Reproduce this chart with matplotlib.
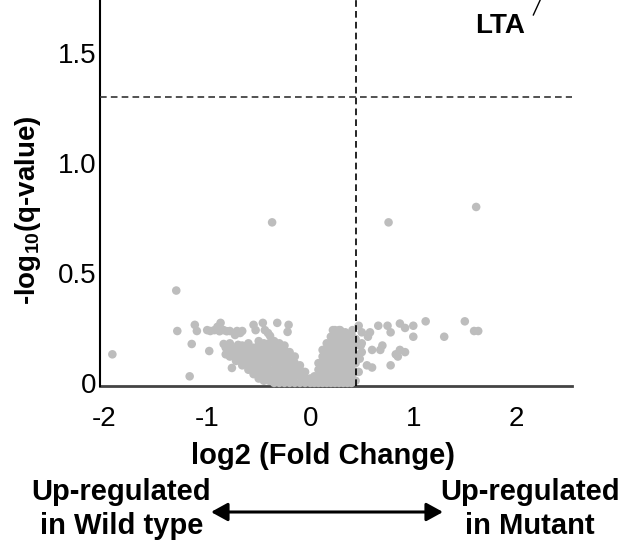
import matplotlib
matplotlib.use("Agg")
import matplotlib.pyplot as plt
import numpy as np

plt.rcParams['font.family'] = ['Liberation Sans', 'DejaVu Sans']
plt.rcParams['mathtext.fontset'] = 'custom'
plt.rcParams['mathtext.rm'] = 'Liberation Sans:bold'
plt.rcParams['mathtext.bf'] = 'Liberation Sans:bold'

# ---- data ----
# scattered (isolated) genes: log2 fold change, -log10(q)
scatter_x = [-1.92, -1.30, -1.29, -1.17, -1.15, -1.12, -1.10, -1.00, -0.98, -0.97,
             -0.93, -0.90, -0.88, -0.87, -0.84, -0.84, -0.81, -0.78, -0.76, -0.76,
             -0.73, -0.71, -0.70, -0.68, -0.66, -0.66, -0.61, -0.55, -0.55, -0.53,
             -0.46, -0.44, -0.41, -0.39, -0.37, -0.32, -0.22, -0.21,
             0.22, 0.29, 0.34, 0.41, 0.47, 0.50, 0.58, 0.66, 0.75, 0.78,
             0.87, 0.92, 1.00, 1.12, 1.50, 1.59, 1.63, 1.30, 1.00, 0.49,
             0.50, 0.60, 0.70, 0.68, 0.83, 0.85, 0.87, 0.92, 0.78, 0.55,
             0.60, 0.56, 0.76, 1.61, 0.47, 0.48, 0.50]
scatter_y = [0.13, 0.42, 0.236, 0.03, 0.177, 0.264, 0.236, 0.24, 0.145, 0.236,
             0.24, 0.255, 0.235, 0.273, 0.24, 0.177, 0.235, 0.236, 0.141, 0.068,
             0.218, 0.236, 0.173, 0.227, 0.236, 0.136, 0.164, 0.264, 0.15, 0.24,
             0.273, 0.24, 0.227, 0.214, 0.73, 0.273, 0.232, 0.264,
             0.24, 0.24, 0.23, 0.24, 0.26, 0.23, 0.23, 0.26, 0.26, 0.23,
             0.27, 0.25, 0.26, 0.28, 0.28, 0.236, 0.236, 0.21, 0.21, 0.17,
             0.18, 0.15, 0.17, 0.15, 0.13, 0.12, 0.15, 0.14, 0.08, 0.08,
             0.07, 0.21, 0.73, 0.80, 0.05, 0.11, 0.14]

# dense cluster near zero, column by column: x -> list of y
cluster = {
    -0.82: [0.13, 0.16],
    -0.78: [0.12, 0.15, 0.18],
    -0.72: [0.10, 0.13, 0.16],
    -0.66: [0.08, 0.11, 0.145, 0.17],
    -0.60: [0.06, 0.09, 0.12, 0.15, 0.18],
    -0.55: [0.04, 0.07, 0.10, 0.135, 0.16],
    -0.50: [0.02, 0.05, 0.08, 0.11, 0.14, 0.17, 0.19],
    -0.45: [0.01, 0.04, 0.07, 0.10, 0.13, 0.16, 0.18],
    -0.40: [0.01, 0.03, 0.06, 0.09, 0.12, 0.15, 0.18],
    -0.35: [0.00, 0.03, 0.06, 0.09, 0.12, 0.15, 0.17, 0.19],
    -0.30: [0.00, 0.03, 0.06, 0.09, 0.12, 0.15, 0.18],
    -0.25: [0.00, 0.03, 0.06, 0.09, 0.12, 0.15, 0.17],
    -0.20: [0.00, 0.03, 0.06, 0.09, 0.12, 0.14],
    -0.15: [0.00, 0.03, 0.06, 0.09, 0.12],
    -0.10: [0.00, 0.03, 0.06, 0.08],
    -0.05: [0.00, 0.02, 0.05],
    0.00: [0.00, 0.02],
    0.04: [0.00, 0.03],
    0.08: [0.00, 0.03, 0.06, 0.09],
    0.12: [0.00, 0.03, 0.06, 0.09, 0.12, 0.15],
    0.16: [0.00, 0.03, 0.06, 0.09, 0.12, 0.15, 0.18],
    0.20: [0.00, 0.03, 0.06, 0.09, 0.12, 0.15, 0.18, 0.21],
    0.24: [0.00, 0.03, 0.06, 0.09, 0.12, 0.15, 0.18, 0.21, 0.24],
    0.28: [0.00, 0.03, 0.06, 0.09, 0.12, 0.15, 0.18, 0.21, 0.24],
    0.32: [0.00, 0.03, 0.06, 0.09, 0.12, 0.15, 0.18, 0.21],
    0.36: [0.00, 0.03, 0.06, 0.09, 0.12, 0.15, 0.18, 0.21],
    0.40: [0.00, 0.03, 0.06, 0.09, 0.12, 0.15, 0.18, 0.22],
    0.44: [0.01, 0.05, 0.09, 0.13, 0.17, 0.20],
}

fc_threshold = 0.44
q_threshold = 1.301

x_ticks = [-2, -1, 0, 1, 2]
x_ticklabels = ["-2", "-1", "0", "1", "2"]
y_ticks = [0, 0.5, 1.0, 1.5]
y_ticklabels = ["0", "0.5", "1.0", "1.5"]

# ---- build point arrays ----
cx, cy = [], []
for xv, ys in cluster.items():
    for yv in ys:
        cx.append(xv)
        cy.append(yv)
all_x = np.array(scatter_x + cx)
all_y = np.array(scatter_y + cy)

W, H = 621, 552
fig = plt.figure(figsize=(W / 100, H / 100), dpi=100)
ax = fig.add_axes([100 / W, 1 - 386 / H, 472 / W, 386 / H])

ax.scatter(all_x, all_y, s=38, color='#bdbdbd', edgecolors='none', zorder=2, clip_on=False)

ax.axvline(fc_threshold, color='black', lw=1.2, dashes=(4, 2.5), zorder=3)
ax.axhline(q_threshold, color='#333333', lw=1.2, dashes=(4, 2.5), zorder=3)

ax.set_xlim(-2.04, 2.54)
ax.set_ylim(-0.014, 1.741)

ax.set_xticks(x_ticks)
ax.set_xticklabels(x_ticklabels, fontsize=20)
ax.set_yticks(y_ticks)
ax.set_yticklabels(y_ticklabels, fontsize=20)
ax.tick_params(axis='x', length=0, pad=14.5)
ax.tick_params(axis='y', length=0, pad=2.5)

for s in ['top', 'right']:
    ax.spines[s].set_visible(False)
ax.spines['left'].set_linewidth(1.5)
ax.spines['left'].set_color('black')
ax.spines['bottom'].set_linewidth(2)
ax.spines['bottom'].set_color('#444444')
ax.spines['bottom'].set_zorder(1)

# LTA label with leader line going off the top
ax.text(1.845, 1.625, "LTA", fontsize=20, fontweight='bold', ha='center', va='center')
ax.plot([2.165, 2.25], [1.673, 1.76], color='black', lw=1, clip_on=False)

# axis labels
fig.text(323 / W, 1 - 456 / H, "log2 (Fold Change)", fontsize=21, fontweight='bold',
         ha='center', va='center')
fig.text(28 / W, 1 - 210 / H, r"-log$_{\mathrm{10}}$(q-value)", fontsize=20, fontweight='bold',
         ha='center', va='center', rotation=90)

# direction annotation
fig.text(121.5 / W, 1 - 509 / H, "Up-regulated\nin Wild type", fontsize=21, fontweight='bold',
         ha='center', va='center', linespacing=1.3)
fig.text(530 / W, 1 - 509 / H, "Up-regulated\nin Mutant", fontsize=21, fontweight='bold',
         ha='center', va='center', linespacing=1.3)
fig.add_artist(matplotlib.patches.FancyArrowPatch(
    (211 / W, 1 - 512 / H), (443 / W, 1 - 512 / H), transform=fig.transFigure,
    arrowstyle='<|-|>,head_length=0.4,head_width=0.22', mutation_scale=25,
    color='black', lw=2.2, shrinkA=0, shrinkB=0))

fig.savefig("out.png", dpi=100)
